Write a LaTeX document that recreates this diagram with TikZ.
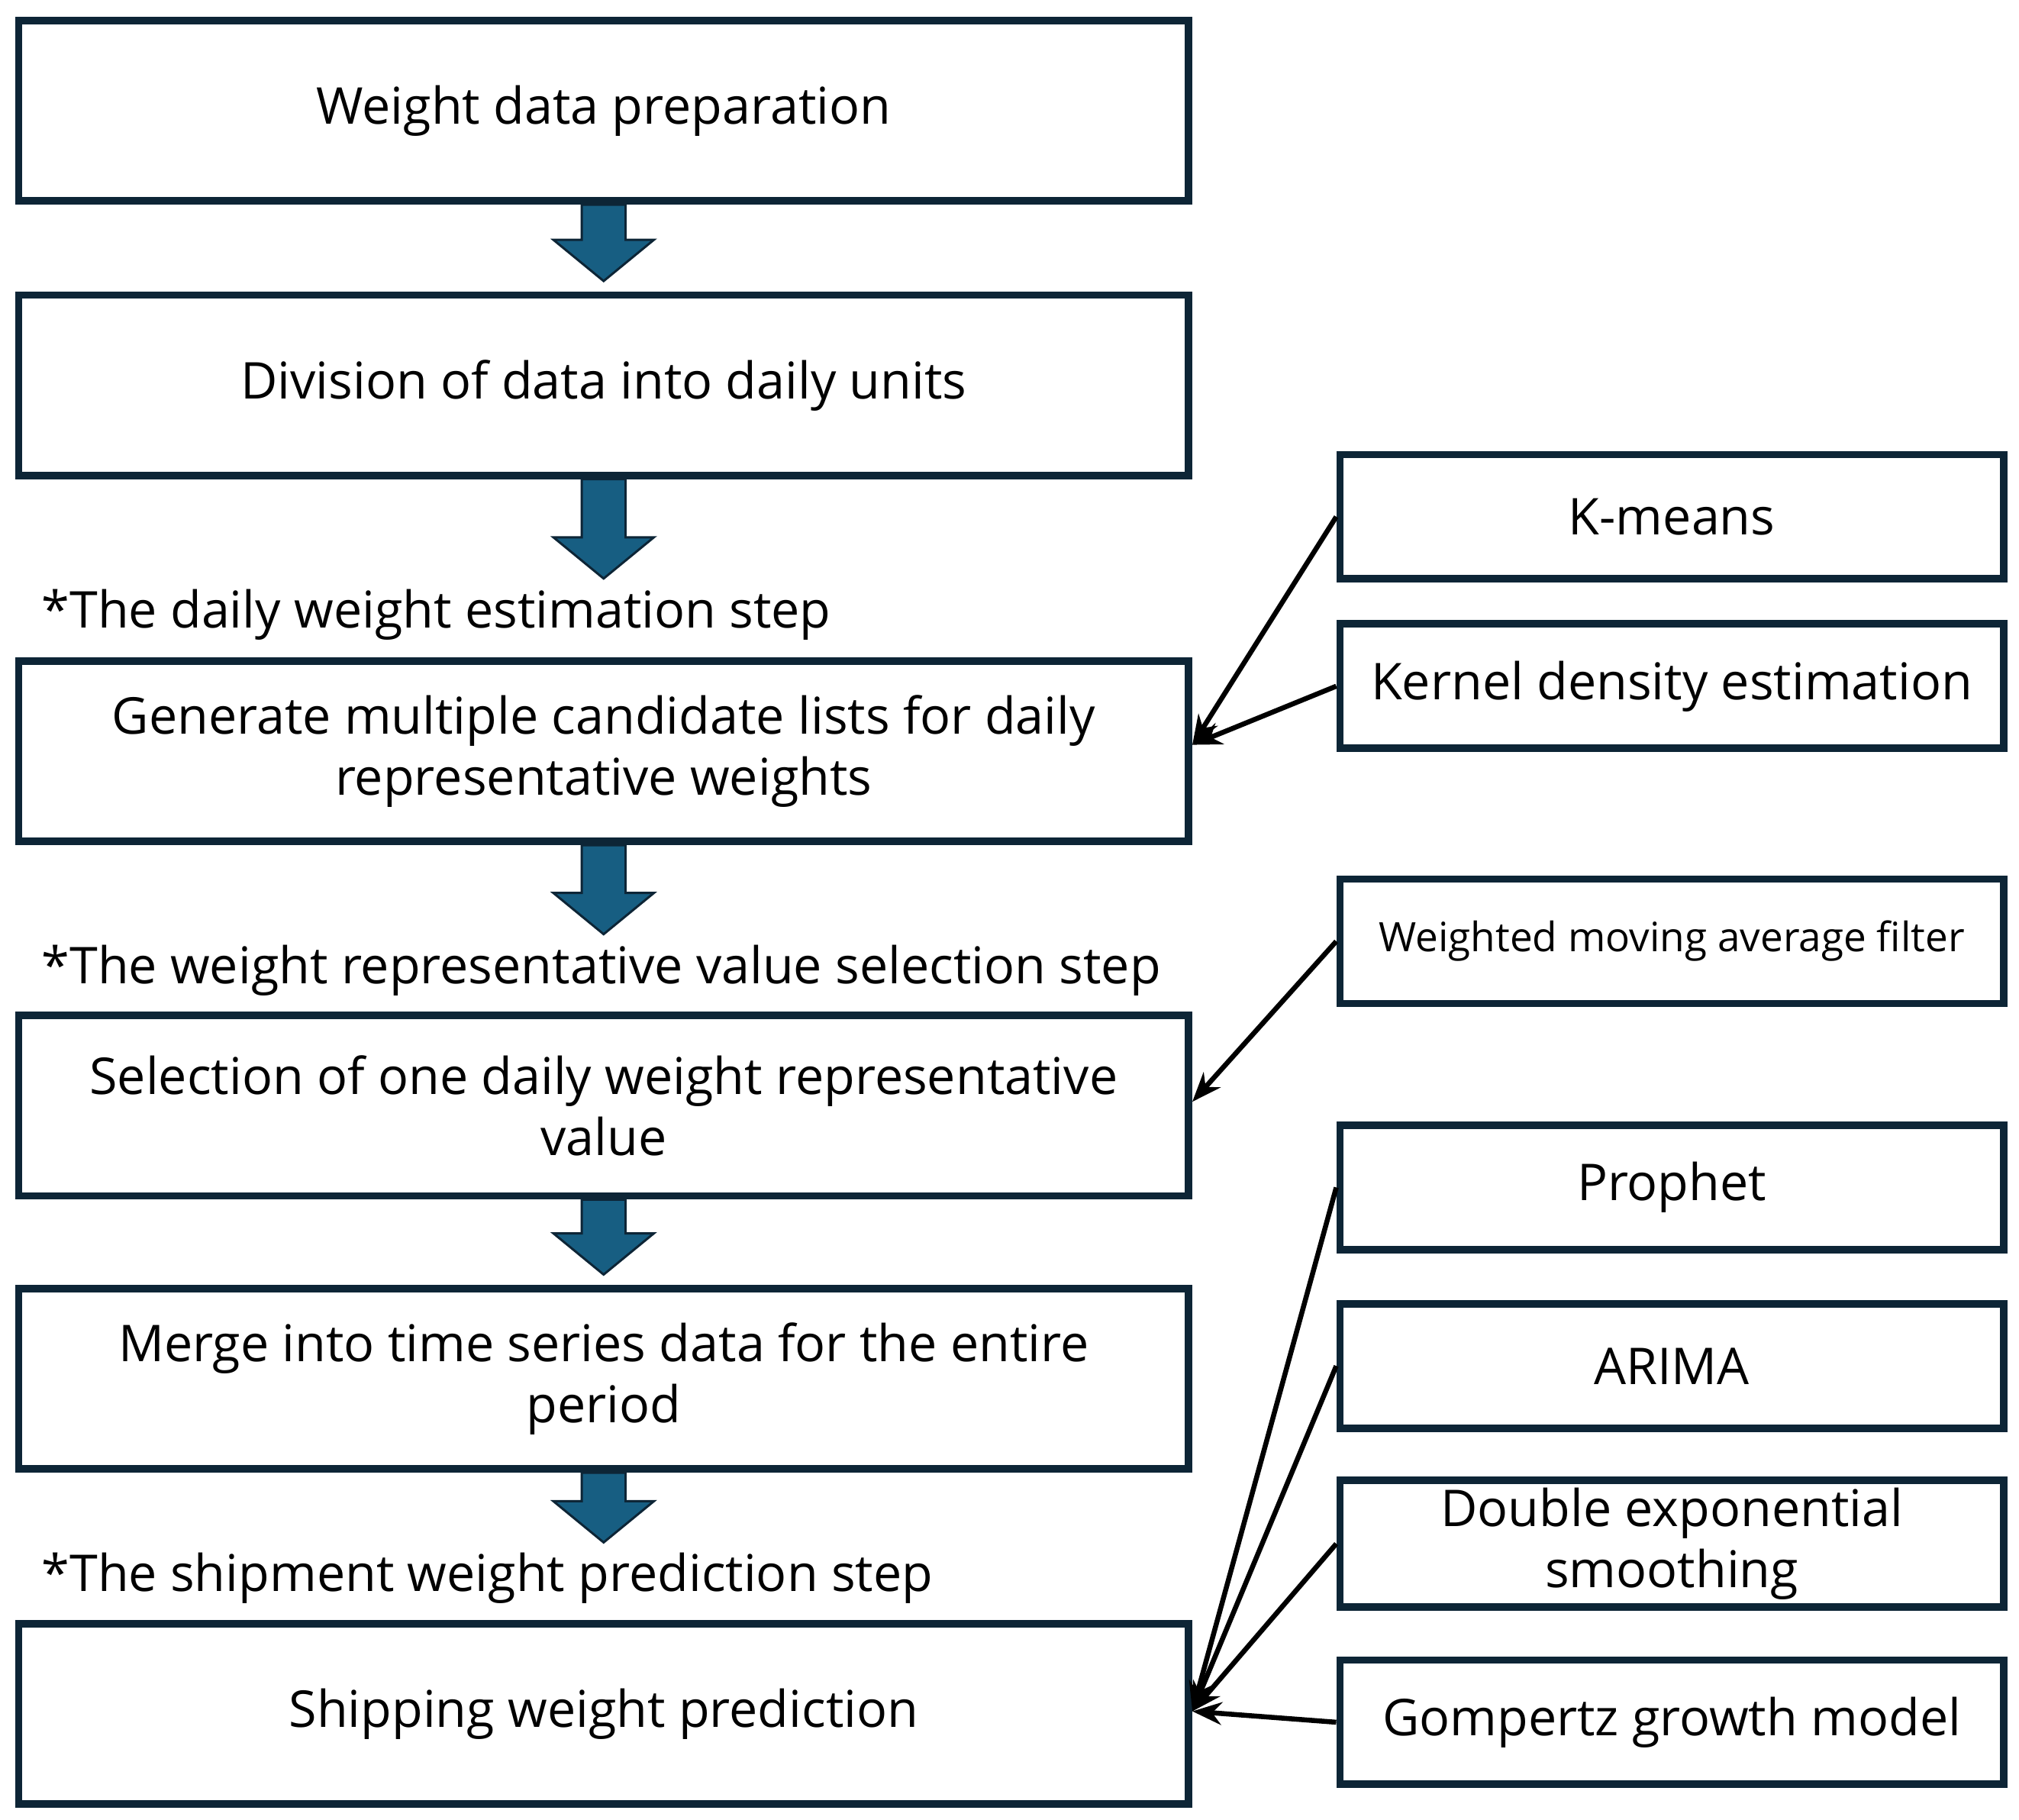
\documentclass[tikz,border=0pt]{standalone}
\usepackage{fontspec}
\setmainfont{Open Sans}
\usetikzlibrary{calc,arrows.meta}
\definecolor{boxline}{HTML}{0D2536}
\definecolor{arrowblue}{HTML}{175E82}
\tikzset{
  stepbox/.style={draw=boxline, line width=3.3pt, fill=white, rectangle, align=center,
    minimum width=18.16cm, minimum height=2.8cm, font=\fontsize{22.4}{27}\selectfont},
  methodbox/.style={draw=boxline, line width=3.3pt, fill=white, rectangle, align=center,
    minimum width=10.3cm, minimum height=1.93cm, font=\fontsize{22.4}{27}\selectfont},
  stagelabel/.style={anchor=west, inner sep=0pt, font=\fontsize{22.4}{27}\selectfont},
  flowarrow/.style={draw=boxline, fill=arrowblue, line width=1pt, line join=miter},
  feed/.style={draw=black, line width=2.2pt, -{Stealth[length=13pt,width=10pt]}}
}
\newcommand{\flowarrow}[2]{%
  \draw[flowarrow] let \p1=(#1.south), \p2=($(#2.north)+(0,0.16)$) in
    (\x1-0.34cm,\y1) -- (\x1+0.34cm,\y1) -- (\x1+0.34cm,\y2+0.64cm)
    -- (\x1+0.78cm,\y2+0.64cm) -- (\x1,\y2) -- (\x1-0.78cm,\y2+0.64cm)
    -- (\x1-0.34cm,\y2+0.64cm) -- cycle;}
\begin{document}
\begin{tikzpicture}
  \useasboundingbox (0,0) rectangle (31.34,-28.24);
  % Main steps
  \node[stepbox] (prep) at (9.37,-1.72) {Weight data preparation};
  \node[stepbox] (divide) at (9.37,-5.98) {Division of data into daily units};
  \node[stepbox] (generate) at (9.37,-11.66) {Generate multiple candidate lists for daily\\representative weights};
  \node[stepbox] (select) at (9.37,-17.16) {Selection of one daily weight representative\\value};
  \node[stepbox] (merge) at (9.37,-21.40) {Merge into time series data for the entire\\period};
  \node[stepbox] (predict) at (9.37,-26.60) {Shipping weight prediction};
  % Stage labels
  \node[stagelabel] (estlabel) at (0.64,-9.54) {*The daily weight estimation step};
  \node[stagelabel] (sellabel) at (0.64,-15.06) {*The weight representative value selection step};
  \node[stagelabel] (predlabel) at (0.64,-24.50) {*The shipment weight prediction step};
  % Methods
  \node[methodbox] (kmeans) at (25.95,-8.02) {K-means};
  \node[methodbox] (kde) at (25.95,-10.65) {Kernel density estimation};
  \node[methodbox, font=\fontsize{17.9}{22}\selectfont] (wma) at (25.95,-14.61) {Weighted moving average filter};
  \node[methodbox] (prophet) at (25.95,-18.43) {Prophet};
  \node[methodbox] (arima) at (25.95,-21.20) {ARIMA};
  \node[methodbox] (des) at (25.95,-23.96) {Double exponential\\smoothing};
  \node[methodbox] (gompertz) at (25.95,-26.73) {Gompertz growth model};
  % Draw the flow arrows
  \flowarrow{prep}{divide}
  \flowarrow{divide}{estlabel}
  \flowarrow{generate}{sellabel}
  \flowarrow{select}{merge}
  \flowarrow{merge}{predlabel}
  % Draw the method links
  \coordinate (genin) at ($(generate.east)+(0,0.1)$);
  \coordinate (selin) at ($(select.east)+(0,0.06)$);
  \coordinate (predin) at ($(predict.east)+(0,0.04)$);
  \draw[feed] (kmeans.west) -- (genin);
  \draw[feed] (kde.west) -- (genin);
  \draw[feed] (wma.west) -- (selin);
  \draw[feed] (prophet.west) -- (predin);
  \draw[feed] (arima.west) -- (predin);
  \draw[feed] (des.west) -- (predin);
  \draw[feed] (gompertz.west) -- (predin);
\end{tikzpicture}
\end{document}
